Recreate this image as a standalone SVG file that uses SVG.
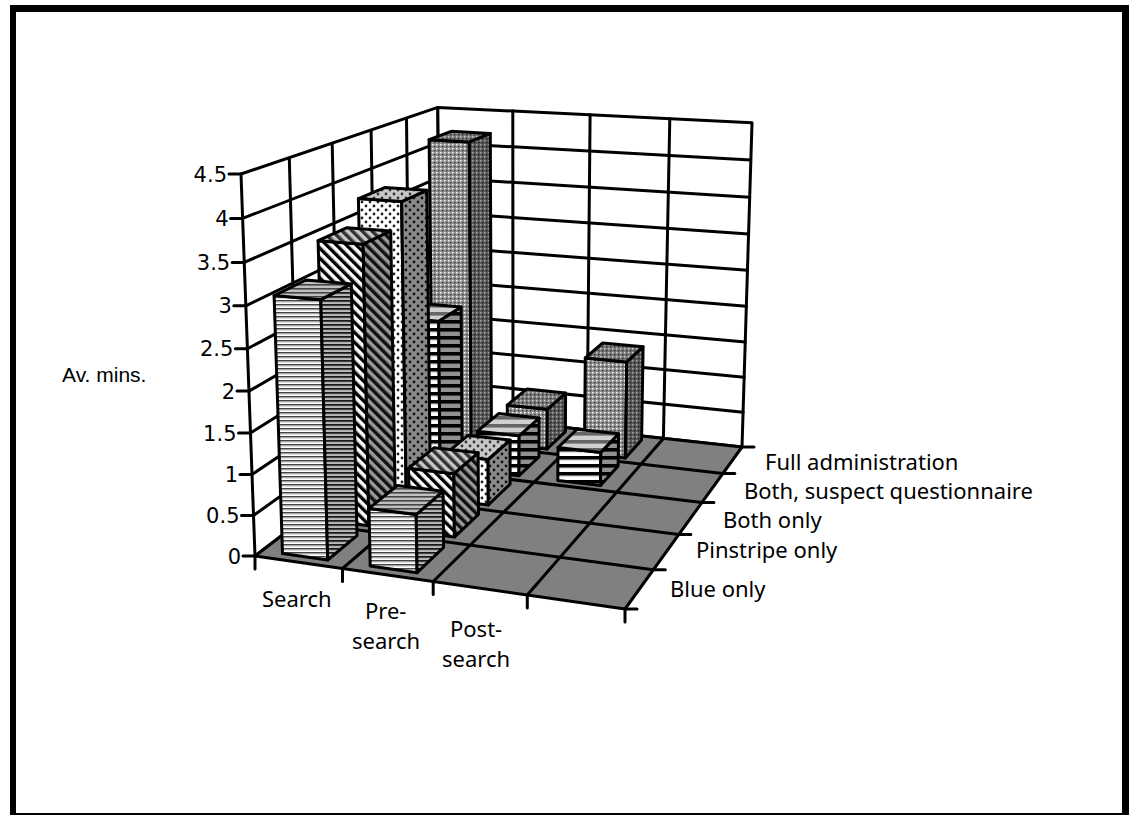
<svg xmlns="http://www.w3.org/2000/svg" width="1129" height="815" viewBox="0 0 1129 815">
<style>
.ln{stroke:#000;stroke-width:3;stroke-linejoin:round;stroke-linecap:round;fill:none}
.wall{fill:#fff;stroke:#000;stroke-width:3;stroke-linejoin:round}
.floor{fill:#808080;stroke:#000;stroke-width:3;stroke-linejoin:round}
.bar polygon{stroke:#000;stroke-width:3;stroke-linejoin:round}
.yl{font-family:"DejaVu Sans",sans-serif;font-size:21px;fill:#000;text-anchor:end}
.cl{font-family:"Noto Sans","Open Sans",sans-serif;font-size:22px;fill:#000}
.at{font-family:"Liberation Sans",Arial,sans-serif;font-size:21px;fill:#000}
</style>
<defs>
<pattern id="blueF" width="4" height="4" patternUnits="userSpaceOnUse"><rect width="4" height="4" fill="#fff"/><rect width="4" height="1.4" fill="#444"/><rect y="1.4" width="4" height="0.9" fill="#999"/></pattern>
<pattern id="blueS" width="4" height="4" patternUnits="userSpaceOnUse"><rect width="4" height="4" fill="#999"/><rect width="4" height="1.7" fill="#1a1a1a"/><rect y="2.7" width="4" height="0.8" fill="#ddd"/></pattern>
<pattern id="blueT" width="4" height="4" patternUnits="userSpaceOnUse"><rect width="4" height="4" fill="#c0c0c0"/><rect width="4" height="1.6" fill="#444"/></pattern>
<pattern id="pinF" width="7" height="7" patternUnits="userSpaceOnUse" patternTransform="rotate(-45)"><rect width="7" height="7" fill="#fff"/><rect width="3.3" height="7" fill="#000"/><rect x="3.3" width="0.8" height="7" fill="#999"/></pattern>
<pattern id="pinS" width="7" height="7" patternUnits="userSpaceOnUse" patternTransform="rotate(-45)"><rect width="7" height="7" fill="#9a9a9a"/><rect width="3.5" height="7" fill="#111"/></pattern>
<pattern id="pinT" width="7" height="7" patternUnits="userSpaceOnUse" patternTransform="rotate(-45)"><rect width="7" height="7" fill="#c8c8c8"/><rect width="3.5" height="7" fill="#333"/></pattern>
<pattern id="dotF" width="8" height="8" patternUnits="userSpaceOnUse"><rect width="8" height="8" fill="#fff"/><circle cx="2" cy="2" r="1.4" fill="#222"/><circle cx="6" cy="6" r="1.4" fill="#222"/></pattern>
<pattern id="dotS" width="8" height="8" patternUnits="userSpaceOnUse"><rect width="8" height="8" fill="#8a8a8a"/><circle cx="2" cy="2" r="1.4" fill="#111"/><circle cx="6" cy="6" r="1.4" fill="#111"/></pattern>
<pattern id="dotT" width="8" height="8" patternUnits="userSpaceOnUse"><rect width="8" height="8" fill="#c8c8c8"/><circle cx="2" cy="2" r="1.4" fill="#333"/><circle cx="6" cy="6" r="1.4" fill="#333"/></pattern>
<pattern id="barF" width="8" height="8" patternUnits="userSpaceOnUse"><rect width="8" height="8" fill="#fff"/><rect width="8" height="3.6" fill="#000"/><rect y="3.6" width="8" height="0.7" fill="#888"/></pattern>
<pattern id="barS" width="8" height="8" patternUnits="userSpaceOnUse"><rect width="8" height="8" fill="#909090"/><rect width="8" height="3.6" fill="#000"/></pattern>
<pattern id="barT" width="8" height="8" patternUnits="userSpaceOnUse"><rect width="8" height="8" fill="#d0d0d0"/><rect width="8" height="3.6" fill="#666"/></pattern>
<pattern id="denF" width="4" height="4" patternUnits="userSpaceOnUse"><rect width="4" height="4" fill="#8e8e8e"/><rect width="1.4" height="1.4" fill="#fff"/><rect x="2" y="2" width="1.4" height="1.4" fill="#3a3a3a"/></pattern>
<pattern id="denS" width="4" height="4" patternUnits="userSpaceOnUse"><rect width="4" height="4" fill="#5a5a5a"/><rect width="1.4" height="1.4" fill="#a8a8a8"/><rect x="2" y="2" width="1.4" height="1.4" fill="#1a1a1a"/></pattern>
<pattern id="denT" width="4" height="4" patternUnits="userSpaceOnUse"><rect width="4" height="4" fill="#7a7a7a"/><rect width="1.4" height="1.4" fill="#ccc"/><rect x="2" y="2" width="1.4" height="1.4" fill="#2a2a2a"/></pattern>
</defs>
<rect width="1129" height="815" fill="#fff"/>
<g id="frame">
<rect x="10" y="5" width="1117" height="7" fill="#000"/>
<rect x="10" y="5" width="6" height="810" fill="#000"/>
<rect x="1122" y="5" width="7" height="810" fill="#000"/>
<rect x="10" y="813" width="1119" height="2" fill="#000"/>
</g>
<g id="walls">
<polygon class="wall" points="255,556 441,414 437.8,107.4 241,174"/>
<polygon class="wall" points="441,414 742,447 752,122.7 437.8,107.4"/>
<g class="ln">
<line x1="253.5" y1="515.5" x2="440.7" y2="381.2"/>
<line x1="252" y1="474.5" x2="440.3" y2="348"/>
<line x1="250.5" y1="433" x2="440" y2="314.6"/>
<line x1="249" y1="391.1" x2="439.6" y2="280.8"/>
<line x1="247.4" y1="348.7" x2="439.2" y2="246.8"/>
<line x1="245.8" y1="305.8" x2="438.9" y2="212.4"/>
<line x1="244.2" y1="262.4" x2="438.5" y2="177.7"/>
<line x1="242.6" y1="218.4" x2="438.2" y2="142.7"/>
<line x1="299.5" y1="522" x2="289.3" y2="158.4"/>
<line x1="339.8" y1="491.3" x2="332.2" y2="143.9"/>
<line x1="376.5" y1="463.2" x2="371.1" y2="130.7"/>
<line x1="410.1" y1="437.6" x2="406.5" y2="118.7"/>
<line x1="440.7" y1="381.2" x2="743.1" y2="412.3"/>
<line x1="440.3" y1="348" x2="744.1" y2="377.3"/>
<line x1="440" y1="314.6" x2="745.2" y2="342"/>
<line x1="439.6" y1="280.8" x2="746.3" y2="306.3"/>
<line x1="439.2" y1="246.8" x2="747.4" y2="270.3"/>
<line x1="438.9" y1="212.4" x2="748.6" y2="233.9"/>
<line x1="438.5" y1="177.7" x2="749.7" y2="197.2"/>
<line x1="438.2" y1="142.7" x2="750.8" y2="160.1"/>
<line x1="513" y1="421.9" x2="512.8" y2="111"/>
<line x1="587.1" y1="430" x2="590.1" y2="114.8"/>
<line x1="663.4" y1="438.4" x2="669.8" y2="118.7"/>
</g>
</g>
<g id="floor">
<polygon class="floor" points="255,556 625,609 742,447 441,414"/>
<g class="ln">
<line x1="342.5" y1="568.5" x2="513" y2="421.9"/>
<line x1="433.2" y1="581.5" x2="587.1" y2="430"/>
<line x1="527.3" y1="595" x2="663.4" y2="438.4"/>
<line x1="299.5" y1="522" x2="653.3" y2="569.8"/>
<line x1="339.8" y1="491.3" x2="678.8" y2="534.5"/>
<line x1="376.5" y1="463.2" x2="701.9" y2="502.6"/>
<line x1="410.1" y1="437.6" x2="722.8" y2="473.5"/>
</g>
</g>
<g id="axes" class="ln">
<line x1="229" y1="174" x2="241" y2="174"/>
<line x1="230.6" y1="218.4" x2="242.6" y2="218.4"/>
<line x1="232.2" y1="262.4" x2="244.2" y2="262.4"/>
<line x1="233.8" y1="305.8" x2="245.8" y2="305.8"/>
<line x1="235.4" y1="348.7" x2="247.4" y2="348.7"/>
<line x1="237" y1="391.1" x2="249" y2="391.1"/>
<line x1="238.5" y1="433" x2="250.5" y2="433"/>
<line x1="240" y1="474.5" x2="252" y2="474.5"/>
<line x1="241.5" y1="515.5" x2="253.5" y2="515.5"/>
<line x1="243" y1="556" x2="255" y2="556"/>
<line x1="255" y1="556" x2="255" y2="569"/>
<line x1="342.5" y1="568.5" x2="342.5" y2="581.5"/>
<line x1="433.2" y1="581.5" x2="433.2" y2="594.5"/>
<line x1="527.3" y1="595" x2="527.3" y2="608"/>
<line x1="625" y1="609" x2="625" y2="622"/>
<line x1="625" y1="609" x2="637" y2="609"/>
<line x1="653.3" y1="569.8" x2="665.3" y2="569.8"/>
<line x1="678.8" y1="534.5" x2="690.8" y2="534.5"/>
<line x1="701.9" y1="502.6" x2="713.9" y2="502.6"/>
<line x1="722.8" y1="473.5" x2="734.8" y2="473.5"/>
<line x1="742" y1="447" x2="754" y2="447"/>
</g>
<g id="bars">
<g id="bar-search-full" class="bar">
<polygon fill="url(#denF)" points="432.6,435.9 471.2,440.3 469.3,141.9 429.1,139.7"/>
<polygon fill="url(#denS)" points="471.2,440.3 491.4,423.5 490.3,133.4 469.3,141.9"/>
<polygon fill="url(#denT)" points="429.1,139.7 469.3,141.9 490.3,133.4 451.2,131.3"/>
</g>
<g id="bar-pre-full" class="bar">
<polygon fill="url(#denF)" points="507.3,444.4 547.1,449 547.3,409.3 507.3,405.1"/>
<polygon fill="url(#denS)" points="547.1,449 565.4,431.6 565.6,393.1 547.3,409.3"/>
<polygon fill="url(#denT)" points="507.3,405.1 547.3,409.3 565.6,393.1 526.7,389.1"/>
</g>
<g id="bar-post-full" class="bar">
<polygon fill="url(#denF)" points="584.4,453.2 625.4,457.9 626.8,361.9 585.3,358"/>
<polygon fill="url(#denS)" points="625.4,457.9 641.6,440.1 643.1,346.7 626.8,361.9"/>
<polygon fill="url(#denT)" points="585.3,358 626.8,361.9 643.1,346.7 602.7,343"/>
</g>
<g id="bar-search-suspect" class="bar">
<polygon fill="url(#barF)" points="400,461.4 440.1,466.2 438.6,321.3 397.7,317.5"/>
<polygon fill="url(#barS)" points="440.1,466.2 462.1,447.9 461.1,307 438.6,321.3"/>
<polygon fill="url(#barT)" points="397.7,317.5 438.6,321.3 461.1,307 421.3,303.5"/>
</g>
<g id="bar-pre-suspect" class="bar">
<polygon fill="url(#barF)" points="477.7,470.7 519,475.7 519.1,435.8 477.5,431.2"/>
<polygon fill="url(#barS)" points="519,475.7 539,456.8 539.1,418 519.1,435.8"/>
<polygon fill="url(#barT)" points="477.5,431.2 519.1,435.8 539.1,418 498.6,413.6"/>
</g>
<g id="bar-post-suspect" class="bar">
<polygon fill="url(#barF)" points="557.8,480.4 600.5,485.5 600.8,452.4 558,447.5"/>
<polygon fill="url(#barS)" points="600.5,485.5 618.1,465.9 618.6,433.8 600.8,452.4"/>
<polygon fill="url(#barT)" points="558,447.5 600.8,452.4 618.6,433.8 576.9,429.3"/>
</g>
<g id="bar-search-both" class="bar">
<polygon fill="url(#dotF)" points="364.5,489.3 406.2,494.6 401.6,201.6 358.4,198.6"/>
<polygon fill="url(#dotS)" points="406.2,494.6 430.3,474.5 426.8,190.3 401.6,201.6"/>
<polygon fill="url(#dotT)" points="358.4,198.6 401.6,201.6 426.8,190.3 384.7,187.6"/>
</g>
<g id="bar-pre-both" class="bar">
<polygon fill="url(#dotF)" points="445.2,499.5 488.3,505 488.1,459.5 444.8,454.5"/>
<polygon fill="url(#dotS)" points="488.3,505 510.1,484.2 510.1,440.1 488.1,459.5"/>
<polygon fill="url(#dotT)" points="444.8,454.5 488.1,459.5 510.1,440.1 468,435.4"/>
</g>
<g id="bar-search-pinstripe" class="bar">
<polygon fill="url(#pinF)" points="325.5,519.9 368.9,525.7 363.1,244.2 318.1,240.7"/>
<polygon fill="url(#pinS)" points="368.9,525.7 395.3,503.6 390.7,230.9 363.1,244.2"/>
<polygon fill="url(#pinT)" points="318.1,240.7 363.1,244.2 390.7,230.9 347,227.7"/>
</g>
<g id="bar-pre-pinstripe" class="bar">
<polygon fill="url(#pinF)" points="409.6,531.1 454.4,537.1 453.9,473.7 408.6,468.2"/>
<polygon fill="url(#pinS)" points="454.4,537.1 478.5,514.3 478.1,452.8 453.9,473.7"/>
<polygon fill="url(#pinT)" points="408.6,468.2 453.9,473.7 478.1,452.8 434.2,447.7"/>
</g>
<g id="bar-search-blue" class="bar">
<polygon fill="url(#blueF)" points="282.5,553.6 327.7,560 320.8,299.7 274.1,295.6"/>
<polygon fill="url(#blueS)" points="327.7,560 357,535.6 351.3,283.9 320.8,299.7"/>
<polygon fill="url(#blueT)" points="274.1,295.6 320.8,299.7 351.3,283.9 306,280"/>
</g>
<g id="bar-pre-blue" class="bar">
<polygon fill="url(#blueF)" points="370.2,566 417.1,572.7 416.2,514.6 369,508.4"/>
<polygon fill="url(#blueS)" points="417.1,572.7 443.6,547.4 443.1,491.2 416.2,514.6"/>
<polygon fill="url(#blueT)" points="369,508.4 416.2,514.6 443.1,491.2 397.3,485.5"/>
</g>
</g>
<g id="labels">
<text class="yl" x="227" y="181.5">4.5</text>
<text class="yl" x="228.6" y="225.9">4</text>
<text class="yl" x="230.2" y="269.9">3.5</text>
<text class="yl" x="231.8" y="313.3">3</text>
<text class="yl" x="233.4" y="356.2">2.5</text>
<text class="yl" x="235" y="398.6">2</text>
<text class="yl" x="236.5" y="440.5">1.5</text>
<text class="yl" x="238" y="482">1</text>
<text class="yl" x="239.5" y="523">0.5</text>
<text class="yl" x="241" y="563.5">0</text>
<text class="at" x="62" y="382">Av.  mins.</text>
<text class="cl" x="262" y="607">Search</text>
<text class="cl" x="365" y="619">Pre-</text>
<text class="cl" x="352" y="649">search</text>
<text class="cl" x="450" y="637">Post-</text>
<text class="cl" x="442" y="667">search</text>
<text class="cl" x="670" y="597">Blue only</text>
<text class="cl" x="696" y="558">Pinstripe only</text>
<text class="cl" x="723" y="528">Both only</text>
<text class="cl" x="744" y="499">Both, suspect questionnaire</text>
<text class="cl" x="765" y="470">Full administration</text>
</g>
</svg>
